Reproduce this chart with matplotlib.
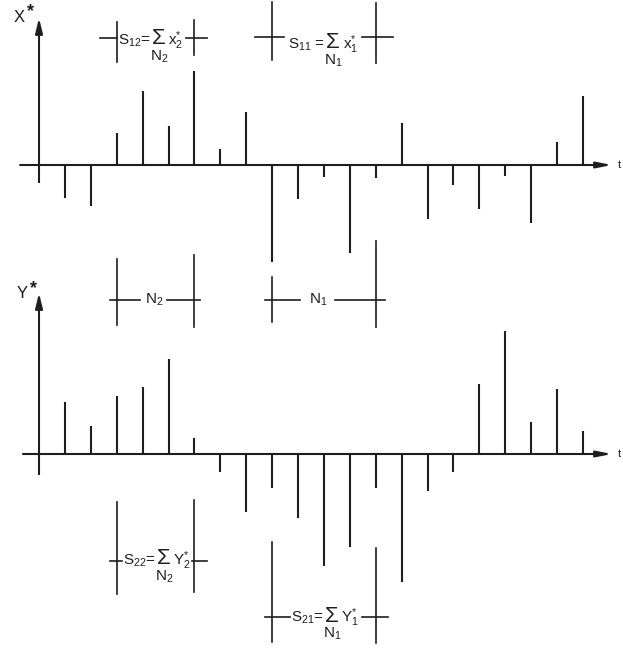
import numpy as np
import matplotlib.pyplot as plt

plt.rcParams['mathtext.fontset'] = 'custom'
plt.rcParams['mathtext.rm'] = 'Liberation Sans'
plt.rcParams['mathtext.it'] = 'Liberation Sans:italic'
plt.rcParams['font.family'] = ['Liberation Sans', 'DejaVu Sans']

ink = '#1e1e1e'

# sampled values (arbitrary units), sample index k = 0..21
x_star = [-18, -33, -41, 32, 74, 39, 94, 16, 53, -97, -34,
          -12, -88, -13, 42, -54, -20, -44, -11, -58, 23, 69]
y_star = [-21, 52, 28, 58, 67, 95, 16, -18, -58, -34, -64,
          -112, -93, -34, -128, -37, -18, 70, 123, 32, 65, 23]
k = np.arange(len(x_star))

# window limits in sample index
win_N2 = (3, 6)
win_N1 = (9, 13)

fig = plt.figure(figsize=(6.23, 6.48), dpi=100)
ax_x = fig.add_axes([0, 0, 1, 1])
ax_y = fig.add_axes([0, 0, 1, 1])
for ax in (ax_x, ax_y):
    ax.set_xlim(-1.506, 22.548)
    ax.axis('off')
    ax.patch.set_alpha(0)
ax_x.set_ylim(-483, 165)
ax_y.set_ylim(-194, 454)

lw = 1.5
rend = fig.canvas.get_renderer()


def axes_arrows(ax, x0, ytop):
    ax.annotate('', xy=(22.12, 0), xytext=(x0, 0),
                arrowprops=dict(arrowstyle='-|>,head_length=0.9,head_width=0.18',
                                lw=lw, color=ink, shrinkA=0, shrinkB=0,
                                mutation_scale=10), annotation_clip=False)
    ax.annotate('', xy=(0, ytop), xytext=(0, 0),
                arrowprops=dict(arrowstyle='-|>,head_length=0.9,head_width=0.22',
                                lw=lw, color=ink, shrinkA=0, shrinkB=0,
                                mutation_scale=10), annotation_clip=False)
    ax.text(22.39, 0, 't', fontsize=8, color=ink, ha='center', va='center')


def axis_label(ax, x, y, letter):
    ax.text(x, y, letter, fontsize=12, color=ink, ha='center', va='center')
    ax.text(x + 0.42, y + 5, '*', fontsize=13, fontweight='bold', color=ink,
            ha='center', va='center')


# X* panel
axes_arrows(ax_x, -0.73, 147)
ax_x.vlines(k, 0, x_star, lw=lw, color=ink)
axis_label(ax_x, -0.75, 148, 'X')

# Y* panel
axes_arrows(ax_y, -0.62, 161)
ax_y.vlines(k, 0, y_star, lw=lw, color=ink)
axis_label(ax_y, -0.65, 160, 'Y')


def seg(ax, xa, xb, ya, yb):
    ax.plot([xa, xb], [ya, yb], color=ink, lw=1.2, clip_on=False)


def formula(ax, x0, base, left, var, under):
    # lay out "S = sum_N x*" left to right starting at x0 (data), returns right end
    fwd = ax.transData.transform
    inv = ax.transData.inverted().transform
    X0, B = fwd((x0, base))
    t1 = ax.text(x0, base, left, fontsize=11, color=ink, ha='left', va='baseline')
    xl = X0 + t1.get_window_extent(rend).width + 1
    ts = ax.text(*inv((xl, B + 6)), '\u03a3', fontsize=16, color=ink,
                 ha='left', va='center')
    ws = ts.get_window_extent(rend).width
    ax.text(*inv((xl + ws / 2 + 1, B - 12)), under, fontsize=11, color=ink,
            ha='center', va='center')
    tv = ax.text(*inv((xl + ws + 3, B)), var, fontsize=11, color=ink,
                 ha='left', va='baseline')
    xr = xl + ws + 3 + tv.get_window_extent(rend).width
    return inv((xr, B))[0]


# S12 window (top)
a, b = win_N2
seg(ax_x, a, a, 143, 103)
seg(ax_x, b, b, 145, 110)
seg(ax_x, 2.36, a, 127, 127)
end = formula(ax_x, 3.05, 120, r'S$_{12}$=', r'x$_2^{*}$', r'N$_2$')
seg(ax_x, end + 0.08, 6.49, 127, 127)

# S11 window (top)
a, b = win_N1
seg(ax_x, a, a, 163, 105)
seg(ax_x, b, b, 162, 102)
seg(ax_x, 8.34, 9.46, 128, 128)
end = formula(ax_x, 9.61, 116, r'S$_{11}$ =', r'x$_1^{*}$', r'N$_1$')
seg(ax_x, max(end + 0.15, 12.32), 13.67, 128, 128)

# N2 / N1 span markers (between panels)
a, b = win_N2
seg(ax_x, a, a, -94, -160)
seg(ax_x, b, b, -90, -162)
seg(ax_x, 2.74, 3.9, -135, -135)
seg(ax_x, 4.94, 6.22, -135, -135)
ax_x.text(4.45, -135, r'N$_2$', fontsize=11, color=ink, ha='center', va='center')
a, b = win_N1
seg(ax_x, a, a, -112, -157)
seg(ax_x, b, b, -76, -162)
seg(ax_x, 8.73, 10.08, -135, -135)
seg(ax_x, 11.43, 13.36, -135, -135)
ax_x.text(10.77, -135, r'N$_1$', fontsize=11, color=ink, ha='center', va='center')

# S22 window (bottom)
a, b = win_N2
seg(ax_y, a, a, -48, -140)
seg(ax_y, b, b, -46, -138)
seg(ax_y, 2.74, 3.2, -107, -107)
end = formula(ax_y, 3.24, -111, r'S$_{22}$=', r'Y$_2^{*}$', r'N$_2$')
seg(ax_y, end + 0.05, 6.49, -107, -107)

# S21 window (bottom)
a, b = win_N1
seg(ax_y, a, a, -88, -188)
seg(ax_y, b, b, -94, -189)
seg(ax_y, 8.73, 9.69, -163, -163)
end = formula(ax_y, 9.73, -168, r'S$_{21}$=', r'Y$_1^{*}$', r'N$_1$')
seg(ax_y, end + 0.1, 13.47, -163, -163)

fig.savefig('out.png', dpi=100)
